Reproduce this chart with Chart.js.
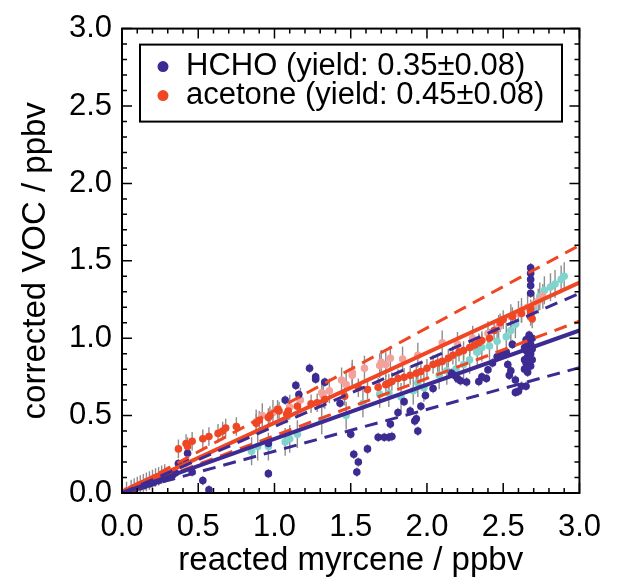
<!DOCTYPE html>
<html>
<head>
<meta charset="utf-8">
<script src="https://cdn.jsdelivr.net/npm/chart.js@4.4.1/dist/chart.umd.min.js"></script>
<style>
  body { margin: 0; background: #fff; }
</style>
</head>
<body>
<canvas id="vocChart" width="617" height="582"></canvas>
<script>
// HCHO points (dark blue)
const hchoX = [0.03,0.06,0.09,0.12,0.15,0.18,0.21,0.24,0.27,0.30,0.33,0.35,
  0.37,0.42,0.43,0.46,0.53,0.57,0.96,0.96,1.07,1.14,
  1.16,1.23,1.27,1.27,1.33,1.43,1.50,1.52,1.55,1.54,
  1.61,1.68,1.72,1.75,1.77,1.76,1.81,1.85,1.89,1.93,
  1.92,1.94,1.96,1.99,2.04,2.16,2.18,2.20,2.22,2.26,
  2.34,2.36,2.39,2.40,2.43,2.46,2.49,2.52,2.53,2.54,
  2.55,2.56,2.58,2.60,2.58,2.62,2.65,
  2.64,2.65,2.66,2.67,2.68,2.69,2.64,2.65,2.66,2.67,
  2.68,2.69,2.66,2.68,2.67,2.69,2.65,2.64,
  2.68,2.68,2.68,2.68,2.68];
const hchoY = [0.006,0.018,0.030,0.040,0.050,0.058,0.070,0.080,0.095,0.105,0.115,0.130,
  0.19,0.20,0.257,0.136,0.08,0.02,0.125,0.32,0.60,0.695,
  0.636,0.806,0.75,0.735,0.716,0.58,0.38,0.25,0.20,0.135,
  0.285,0.36,0.36,0.36,0.365,0.445,0.52,0.59,0.53,0.48,
  0.465,0.40,0.56,0.63,0.675,0.775,0.76,0.74,0.725,0.717,
  0.72,0.75,0.74,0.796,0.84,0.88,0.90,0.91,0.83,0.76,
  0.79,0.96,0.65,0.657,0.73,0.69,0.69,
  0.80,0.84,0.88,0.92,0.96,1.00,0.86,0.92,0.97,1.02,
  0.82,0.86,0.78,0.90,0.95,0.93,0.99,0.94,
  1.29,1.34,1.38,1.42,1.455];

// acetone points (red)
const acetoneX = [0.03,0.06,0.08,0.10,0.12,0.14,0.16,0.18,0.20,0.22,0.24,0.26,0.28,
  0.37,0.42,0.43,0.46,0.53,0.57,0.63,0.66,0.68,0.75,
  0.88,0.90,0.96,0.97,1.02,1.03,1.08,1.09,1.15,
  1.24,1.28,1.33,1.46,1.55,1.61,1.68,1.73,1.75,1.77,
  1.81,1.85,1.89,1.93,1.96,2.00,2.04,2.07,2.10,2.14,
  2.17,2.21,2.24,2.28,2.31,2.34,2.36,2.41,2.44,
  2.48,2.50,2.56,2.62,2.68,2.69,2.68,2.68];
const acetoneY = [0.012,0.026,0.036,0.045,0.055,0.062,0.072,0.080,0.090,0.100,0.108,0.118,0.125,
  0.285,0.320,0.300,0.334,0.350,0.365,0.385,0.400,0.420,0.430,
  0.450,0.470,0.487,0.500,0.540,0.530,0.510,0.530,0.560,
  0.576,0.583,0.604,0.625,0.680,0.668,0.683,0.700,0.710,0.720,
  0.740,0.747,0.760,0.774,0.785,0.806,0.830,0.840,0.850,0.870,
  0.890,0.910,0.920,0.940,0.955,0.970,0.985,1.000,1.050,
  1.100,1.120,1.140,1.160,1.140,1.125,1.170,1.190];

// second experiment: acetone (pink) and HCHO (cyan)
const pinkX = [0.88,0.92,0.99,1.10,1.17,1.31,1.32,1.36,1.44,1.47,1.51,1.51,1.59,1.69,1.70,
  1.73,1.76,1.84,1.94,2.10,2.20,2.30,2.40,2.47,2.55,2.60,2.62,2.66,2.70,2.73,2.76];
const pinkY = [0.46,0.50,0.52,0.555,0.60,0.647,0.63,0.66,0.73,0.70,0.78,0.76,0.806,0.823,0.844,
  0.83,0.87,0.866,0.89,0.97,0.96,1.00,1.03,1.07,1.14,1.16,1.18,1.20,1.22,1.24,1.27];
const cyanX = [0.85,0.89,0.96,1.07,1.10,1.15,1.31,1.47,1.58,1.69,1.75,1.83,1.91,1.94,1.98,
  2.08,2.13,2.19,2.24,2.28,2.33,2.36,2.41,2.46,2.52,2.55,2.58,2.70,2.74,2.77,2.81,2.84,2.88,2.90];
const cyanY = [0.27,0.30,0.30,0.33,0.35,0.38,0.47,0.50,0.58,0.64,0.645,0.62,0.66,0.71,0.68,
  0.76,0.79,0.80,0.83,0.86,0.91,0.94,0.95,0.98,1.01,1.05,1.09,1.19,1.27,1.31,1.33,1.35,1.38,1.40];

// error bar half-widths (ppbv)
const hchoErr = 0.03, acetoneErr = 0.06, pinkErr = 0.08, cyanErr = 0.09;

// fit lines (yield and +/- 0.08)
const fitX = [0, 3];
const hchoFit = [0, 1.05], hchoFitHigh = [0, 1.29], hchoFitLow = [0, 0.81];
const acetoneFit = [0, 1.36], acetoneFitHigh = [0, 1.60], acetoneFitLow = [0, 1.11];

const tickValues = [0, 0.5, 1.0, 1.5, 2.0, 2.5, 3.0];

const BLUE = '#3d2b93', RED = '#f04623', PINK = '#f4a19c', CYAN = '#7fd4ce';
const FONT = '"Liberation Sans", Arial, sans-serif';

const pts = (xs, ys) => xs.map((x, i) => ({ x: x, y: ys[i] }));

function dots(label, xs, ys, color, err, order) {
    return {
        label: label,
        data: pts(xs, ys),
        backgroundColor: color,
        borderWidth: 0,
        pointRadius: 3.8,
        showLine: false,
        errorBar: err,
        order: order
    };
}

function fitLine(ys, color, dashed) {
    return {
        data: pts(fitX, ys),
        borderColor: color,
        borderWidth: dashed ? 3 : 4,
        borderDash: dashed ? [13, 8] : [],
        showLine: true,
        pointRadius: 0,
        fill: false,
        order: 0
    };
}

// gray vertical error bars under the points
const errorBars = {
    id: 'errorBars',
    beforeDatasetsDraw(chart) {
        const { ctx, chartArea: a, scales: { x, y } } = chart;
        ctx.save();
        ctx.beginPath();
        ctx.rect(a.left, a.top, a.width, a.height);
        ctx.clip();
        ctx.strokeStyle = '#8d8d8d';
        ctx.lineWidth = 1.4;
        chart.data.datasets.forEach(ds => {
            if (!ds.errorBar) return;
            ds.data.forEach(p => {
                const px = x.getPixelForValue(p.x);
                ctx.beginPath();
                ctx.moveTo(px, y.getPixelForValue(p.y - ds.errorBar));
                ctx.lineTo(px, y.getPixelForValue(p.y + ds.errorBar));
                ctx.stroke();
            });
        });
        ctx.restore();
    }
};

// box with inward ticks on all four sides
const frame = {
    id: 'frame',
    afterDatasetsDraw(chart) {
        const { ctx, chartArea: a, scales: { x, y } } = chart;
        ctx.save();
        ctx.strokeStyle = '#000';
        ctx.lineWidth = 2;
        ctx.strokeRect(a.left, a.top, a.width, a.height);
        ctx.lineWidth = 1.5;
        for (let i = 0; i <= 30; i++) {
            const v = i / 10;
            const len = i % 5 === 0 ? 10 : 5;
            const px = x.getPixelForValue(v), py = y.getPixelForValue(v);
            ctx.beginPath();
            ctx.moveTo(px, a.bottom); ctx.lineTo(px, a.bottom - len);
            ctx.moveTo(px, a.top); ctx.lineTo(px, a.top + len);
            ctx.moveTo(a.left, py); ctx.lineTo(a.left + len, py);
            ctx.moveTo(a.right, py); ctx.lineTo(a.right - len, py);
            ctx.stroke();
        }
        ctx.restore();
    }
};

const hcho = dots('HCHO (yield: 0.35\u00b10.08)', hchoX, hchoY, BLUE, hchoErr, 2);
const acetone = dots('acetone (yield: 0.45\u00b10.08)', acetoneX, acetoneY, RED, acetoneErr, 1);
const legendItems = [hcho, acetone];

// legend box inside the plot
const insideLegend = {
    id: 'insideLegend',
    afterDraw(chart) {
        const { ctx, chartArea: a } = chart;
        const left = a.left + 18, top = a.top + 16;
        ctx.save();
        ctx.fillStyle = '#fff';
        ctx.fillRect(left, top, 422, 77);
        ctx.strokeStyle = '#000';
        ctx.lineWidth = 2;
        ctx.strokeRect(left, top, 422, 77);
        ctx.font = '31px ' + FONT;
        ctx.textBaseline = 'alphabetic';
        legendItems.forEach((ds, i) => {
            const base = top + 30 + i * 29;
            ctx.fillStyle = ds.backgroundColor;
            ctx.beginPath();
            ctx.arc(left + 23, base - 8, 5.5, 0, Math.PI * 2);
            ctx.fill();
            ctx.fillStyle = '#000';
            ctx.fillText(ds.label, left + 46, base);
        });
        ctx.restore();
    }
};

const ctx = document.getElementById('vocChart').getContext('2d');

const vocChart = new Chart(ctx, {
    type: 'scatter',
    data: {
        datasets: [
            fitLine(hchoFit, BLUE, false),
            fitLine(hchoFitHigh, BLUE, true),
            fitLine(hchoFitLow, BLUE, true),
            fitLine(acetoneFit, RED, false),
            fitLine(acetoneFitHigh, RED, true),
            fitLine(acetoneFitLow, RED, true),
            acetone,
            hcho,
            dots('acetone 2', pinkX, pinkY, PINK, pinkErr, 3),
            dots('HCHO 2', cyanX, cyanY, CYAN, cyanErr, 4)
        ]
    },
    options: {
        responsive: false,
        animation: false,
        layout: { padding: { top: 23, right: 25, left: 0, bottom: 0 } },
        scales: {
            x: {
                type: 'linear',
                min: 0,
                max: 3,
                afterBuildTicks: s => { s.ticks = tickValues.map(v => ({ value: v })); },
                afterFit: s => { s.height = 89; },
                ticks: {
                    color: '#000',
                    padding: 16,
                    maxRotation: 0,
                    font: { size: 31, family: FONT },
                    callback: v => v.toFixed(1)
                },
                grid: { display: false, drawTicks: false },
                border: { display: false },
                title: {
                    display: true,
                    text: 'reacted myrcene / ppbv',
                    color: '#000',
                    font: { size: 33, family: FONT },
                    padding: { top: 0, bottom: 1 }
                }
            },
            y: {
                type: 'linear',
                min: 0,
                max: 3,
                afterBuildTicks: s => { s.ticks = tickValues.map(v => ({ value: v })); },
                afterFit: s => { s.width = 122; },
                ticks: {
                    color: '#000',
                    padding: 10,
                    font: { size: 31, family: FONT },
                    callback: v => v.toFixed(1)
                },
                grid: { display: false, drawTicks: false },
                border: { display: false },
                title: {
                    display: true,
                    text: 'corrected VOC / ppbv',
                    color: '#000',
                    font: { size: 33, family: FONT },
                    padding: { top: 16, bottom: 0 }
                }
            }
        },
        plugins: {
            legend: { display: false },
            tooltip: { enabled: false }
        }
    },
    plugins: [errorBars, frame, insideLegend]
});
</script>
</body>
</html>
